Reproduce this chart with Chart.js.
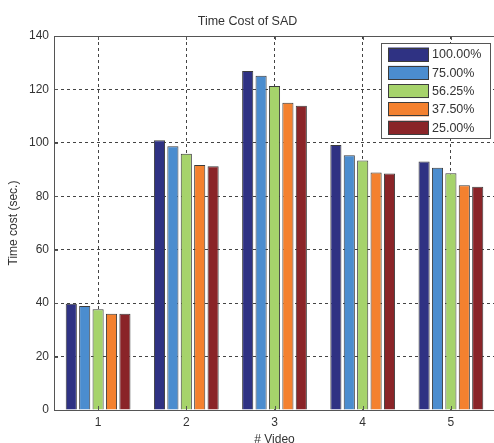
<!DOCTYPE html>
<html>
<head>
<meta charset="utf-8">
<script src="https://cdn.jsdelivr.net/npm/chart.js@4/dist/chart.umd.min.js"></script>
<style>
  html, body { margin: 0; padding: 0; background: #ffffff; overflow: hidden; }
  #wrap { position: relative; width: 495px; height: 443px; }
</style>
</head>
<body>
<div id="wrap"><canvas id="c"></canvas></div>
<script>
// Video sequences on the x axis
const videos = ['1', '2', '3', '4', '5'];
// Sampling ratios shown in the legend
const ratios = ['100.00%', '75.00%', '56.25%', '37.50%', '25.00%'];
// Time cost (seconds) per video for each ratio
const cost100 = [39.8, 101.0, 126.9, 99.2, 93.0];
const cost75 = [38.9, 98.7, 125.1, 95.4, 90.7];
const cost5625 = [37.7, 95.9, 121.3, 93.4, 88.6];
const cost375 = [36.0, 91.7, 115.0, 88.9, 84.1];
const cost25 = [36.0, 91.2, 113.9, 88.5, 83.6];
// Y axis range and step
const yMin = 0, yMax = 140, yStep = 20;

const seriesValues = [cost100, cost75, cost5625, cost375, cost25];
const colors = ['#2f3283', '#4b8dcf', '#a6d36b', '#f4812f', '#8a2428'];

const FONT = '"Liberation Sans", Arial, sans-serif';
const TEXT = '#333333';
const AXIS = '#555555';

// Box frame, inward tick marks and the legend drawn on top of the plot
const frameAndLegend = {
  id: 'frameAndLegend',
  afterDatasetsDraw(chart) {
    const ctx = chart.ctx;
    const a = chart.chartArea;
    const xs = chart.scales.x, ys = chart.scales.y;
    ctx.save();
    ctx.strokeStyle = AXIS;
    ctx.lineWidth = 1;
    ctx.beginPath();
    // top edge
    ctx.moveTo(a.left, Math.round(a.top) + 0.5);
    ctx.lineTo(a.right + 2, Math.round(a.top) + 0.5);
    // inward ticks on x
    xs.ticks.forEach((t, i) => {
      const px = Math.round(xs.getPixelForTick(i)) + 0.5;
      ctx.moveTo(px, a.bottom); ctx.lineTo(px, a.bottom - 4);
      ctx.moveTo(px, a.top); ctx.lineTo(px, a.top + 4);
    });
    // inward ticks on y
    ys.ticks.forEach((t, i) => {
      const py = Math.round(ys.getPixelForTick(i)) + 0.5;
      ctx.moveTo(a.left, py); ctx.lineTo(a.left + 4, py);
    });
    ctx.stroke();

    // legend
    const lx = 381, ly = 43, lw = 109, lh = 95;
    ctx.fillStyle = '#ffffff';
    ctx.fillRect(lx, ly, lw, lh);
    ctx.strokeStyle = AXIS;
    ctx.strokeRect(lx + 0.5, ly + 0.5, lw, lh);
    ctx.font = '12.5px ' + FONT;
    ctx.textBaseline = 'middle';
    ctx.textAlign = 'left';
    chart.data.datasets.forEach((ds, i) => {
      const sy = ly + 4.5 + i * 18.3;
      ctx.fillStyle = ds.backgroundColor;
      ctx.fillRect(388, sy, 41, 14);
      ctx.strokeStyle = '#3c3c3c';
      ctx.strokeRect(388.5, Math.round(sy) + 0.5, 40, 13);
      ctx.fillStyle = TEXT;
      ctx.fillText(ds.label, 432, sy + 7.5);
    });
    ctx.restore();
  }
};

new Chart(document.getElementById('c'), {
  type: 'bar',
  data: {
    labels: videos,
    datasets: ratios.map((r, i) => ({
      label: r,
      data: seriesValues[i],
      backgroundColor: colors[i],
      borderColor: '#3c3c3c',
      borderWidth: 1,
      categoryPercentage: 0.76,
      barPercentage: 0.83
    }))
  },
  options: {
    responsive: true,
    maintainAspectRatio: false,
    animation: false,
    layout: { padding: { left: 0, right: 0, top: 0, bottom: 0 } },
    plugins: {
      legend: { display: false },
      tooltip: { enabled: false },
      title: {
        display: true,
        text: 'Time Cost of SAD',
        color: TEXT,
        font: { family: FONT, size: 12.5, weight: 'normal', lineHeight: 1.2 },
        padding: { top: 14, bottom: 7 }
      }
    },
    scales: {
      x: {
        offset: true,
        grid: {
          offset: false,
          drawTicks: false,
          color: '#444444',
          lineWidth: 1
        },
        border: { display: true, color: AXIS, width: 1, dash: [3, 3] },
        ticks: {
          color: TEXT,
          font: { family: FONT, size: 12 },
          padding: 5
        },
        title: {
          display: true,
          text: '# Video',
          color: TEXT,
          font: { family: FONT, size: 12, lineHeight: 0.5 },
          padding: 0
        },
        afterFit(s) { s.height = 33; }
      },
      y: {
        min: yMin,
        max: yMax,
        ticks: {
          stepSize: yStep,
          color: TEXT,
          font: { family: FONT, size: 12 },
          padding: 5
        },
        grid: {
          drawTicks: false,
          color: '#444444',
          lineWidth: 1
        },
        border: { display: true, color: AXIS, width: 1, dash: [3, 3] },
        title: {
          display: true,
          text: 'Time cost (sec.)',
          color: TEXT,
          font: { family: FONT, size: 12, lineHeight: 1.2 },
          padding: { top: 6, bottom: 0 }
        },
        afterFit(s) { s.width = 54; }
      }
    }
  },
  plugins: [frameAndLegend]
});
</script>
</body>
</html>
